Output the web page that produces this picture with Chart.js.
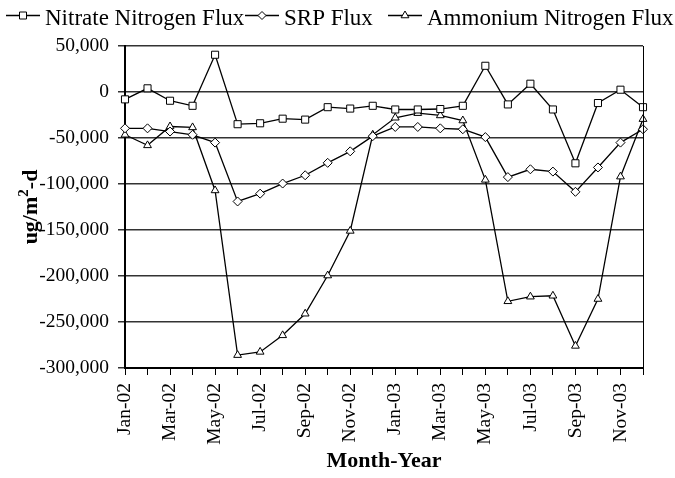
<!DOCTYPE html>
<html>
<head>
<meta charset="utf-8">
<script src="https://cdn.jsdelivr.net/npm/chart.js@4"></script>
<style>
  html, body { margin: 0; padding: 0; background: #fff; }
  canvas { display: block; }
</style>
</head>
<body>
<canvas id="fluxChart" width="675" height="478"></canvas>
<script>
// --- data ---
const months = ['Jan-02', 'Feb-02', 'Mar-02', 'Apr-02', 'May-02', 'Jun-02', 'Jul-02', 'Aug-02', 'Sep-02', 'Oct-02', 'Nov-02', 'Dec-02',
                'Jan-03', 'Feb-03', 'Mar-03', 'Apr-03', 'May-03', 'Jun-03', 'Jul-03', 'Aug-03', 'Sep-03', 'Oct-03', 'Nov-03', 'Dec-03'];
const nitrateFlux = [-8000, 4000, -9500, -15000, 40500, -35000, -34000, -29000, -30000, -16500, -18000, -15000,
                     -19000, -19000, -18500, -15000, 28500, -13500, 9000, -19000, -77500, -12000, 2500, -16500];
const srpFlux = [-39500, -39500, -43000, -46500, -55000, -119000, -110500, -99500, -90500, -77000, -64500, -48000,
                 -38000, -38000, -39500, -40500, -49000, -92500, -84000, -86500, -108500, -82000, -55000, -40500];
const ammoniumFlux = [-46500, -58000, -37500, -38500, -107000, -286000, -282500, -264500, -241000, -199500, -151000, -46500,
                      -28000, -23000, -25500, -31000, -95500, -227500, -222500, -221500, -276000, -225000, -92000, -29500];
const yTickValues = [50000, 0, -50000, -100000, -150000, -200000, -250000, -300000];

const seriesNames = ['Nitrate Nitrogen Flux', 'SRP Flux', 'Ammonium Nitrogen Flux'];
const seriesMarkers = ['rect', 'rectRot', 'triangle'];

const SERIF = "'Liberation Serif', 'Times New Roman', serif";

// little marker painter for the legend (same shapes as the plot)
function drawMarker(ctx, style, x, y) {
    ctx.beginPath();
    if (style === 'rect') {
        ctx.rect(x - 3.5, y - 3.5, 7, 7);
    } else if (style === 'rectRot') {
        ctx.moveTo(x, y - 4); ctx.lineTo(x + 4, y); ctx.lineTo(x, y + 4); ctx.lineTo(x - 4, y); ctx.closePath();
    } else {
        ctx.moveTo(x, y - 4.5); ctx.lineTo(x + 3.9, y + 2.25); ctx.lineTo(x - 3.9, y + 2.25); ctx.closePath();
    }
    ctx.fillStyle = '#fff';
    ctx.fill();
    ctx.lineWidth = 1;
    ctx.strokeStyle = '#000';
    ctx.stroke();
}

// legend across the top, Excel style (line with marker in the middle)
const legendStarts = [6, 245, 388];
const topLegend = {
    id: 'topLegend',
    afterDraw(chart) {
        const ctx = chart.ctx;
        ctx.save();
        ctx.font = '23px ' + SERIF;
        ctx.textBaseline = 'alphabetic';
        seriesNames.forEach((name, i) => {
            const x = legendStarts[i];
            ctx.beginPath();
            ctx.moveTo(x, 15.5); ctx.lineTo(x + 34, 15.5);
            ctx.lineWidth = 1.3; ctx.strokeStyle = '#000';
            ctx.stroke();
            drawMarker(ctx, seriesMarkers[i], x + 17, 15.5);
            ctx.fillStyle = '#000';
            ctx.fillText(name, x + 39, 25);
        });
        ctx.restore();
    }
};

// y title with a real superscript, plus the thin right border of the plot
const frameAndTitle = {
    id: 'frameAndTitle',
    afterDraw(chart) {
        const ctx = chart.ctx;
        const a = chart.chartArea;
        ctx.save();
        ctx.beginPath();
        ctx.moveTo(a.right + 0.5, a.top);
        ctx.lineTo(a.right + 0.5, a.bottom + 7);
        ctx.lineWidth = 1; ctx.strokeStyle = '#000';
        ctx.stroke();

        const parts = [
            { t: 'ug/m', f: 'bold 22px ' + SERIF, dy: 0 },
            { t: '2', f: 'bold 15px ' + SERIF, dy: -9 },
            { t: '-d', f: 'bold 22px ' + SERIF, dy: 0 }
        ];
        let total = 0;
        parts.forEach(p => { ctx.font = p.f; p.w = ctx.measureText(p.t).width; total += p.w; });
        ctx.translate(37, (a.top + a.bottom) / 2);
        ctx.rotate(-Math.PI / 2);
        ctx.fillStyle = '#000';
        ctx.textBaseline = 'alphabetic';
        let x = -total / 2;
        parts.forEach(p => { ctx.font = p.f; ctx.fillText(p.t, x, p.dy); x += p.w; });
        ctx.restore();
    }
};

function makeSet(label, data, style, radius) {
    return {
        label: label,
        data: data,
        borderColor: '#000',
        borderWidth: 1.3,
        pointStyle: style,
        pointRadius: radius,
        pointBackgroundColor: '#fff',
        pointBorderColor: '#000',
        pointBorderWidth: 1,
        tension: 0,
        fill: false
    };
}

const fluxChart = new Chart(document.getElementById('fluxChart'), {
    type: 'line',
    data: {
        labels: months,
        datasets: [
            makeSet(seriesNames[0], nitrateFlux, seriesMarkers[0], 5),
            makeSet(seriesNames[1], srpFlux, seriesMarkers[1], 4.5),
            makeSet(seriesNames[2], ammoniumFlux, seriesMarkers[2], 4.5)
        ]
    },
    options: {
        responsive: false,
        animation: false,
        layout: { padding: { top: 46, right: 32, bottom: 0, left: 0 } },
        plugins: { legend: { display: false }, tooltip: { enabled: false } },
        scales: {
            x: {
                offset: false,
                grid: { drawOnChartArea: false, drawTicks: true, tickLength: 7, color: '#000', lineWidth: 1 },
                border: { color: '#000', width: 2 },
                ticks: {
                    autoSkip: false, maxRotation: 90, minRotation: 90, padding: 8, color: '#000',
                    font: { family: SERIF, size: 19.5 },
                    callback: (v, i) => (i % 2 === 0 ? months[i] : '')
                },
                title: {
                    display: true, text: 'Month-Year', color: '#000',
                    font: { family: SERIF, size: 22, weight: 'bold' },
                    padding: { top: 0, bottom: 3 }
                },
                afterFit: s => { s.height = 110; }
            },
            y: {
                min: -300000,
                max: 50000,
                afterBuildTicks: s => { s.ticks = yTickValues.map(v => ({ value: v })); },
                grid: { color: '#333', lineWidth: 1.5, tickLength: 7 },
                border: { color: '#000', width: 2 },
                ticks: {
                    padding: 9, color: '#000',
                    font: { family: SERIF, size: 19.5 },
                    callback: v => v.toLocaleString('en-US')
                },
                afterFit: s => { s.width = 125; }
            }
        }
    },
    plugins: [topLegend, frameAndTitle]
});
</script>
</body>
</html>
